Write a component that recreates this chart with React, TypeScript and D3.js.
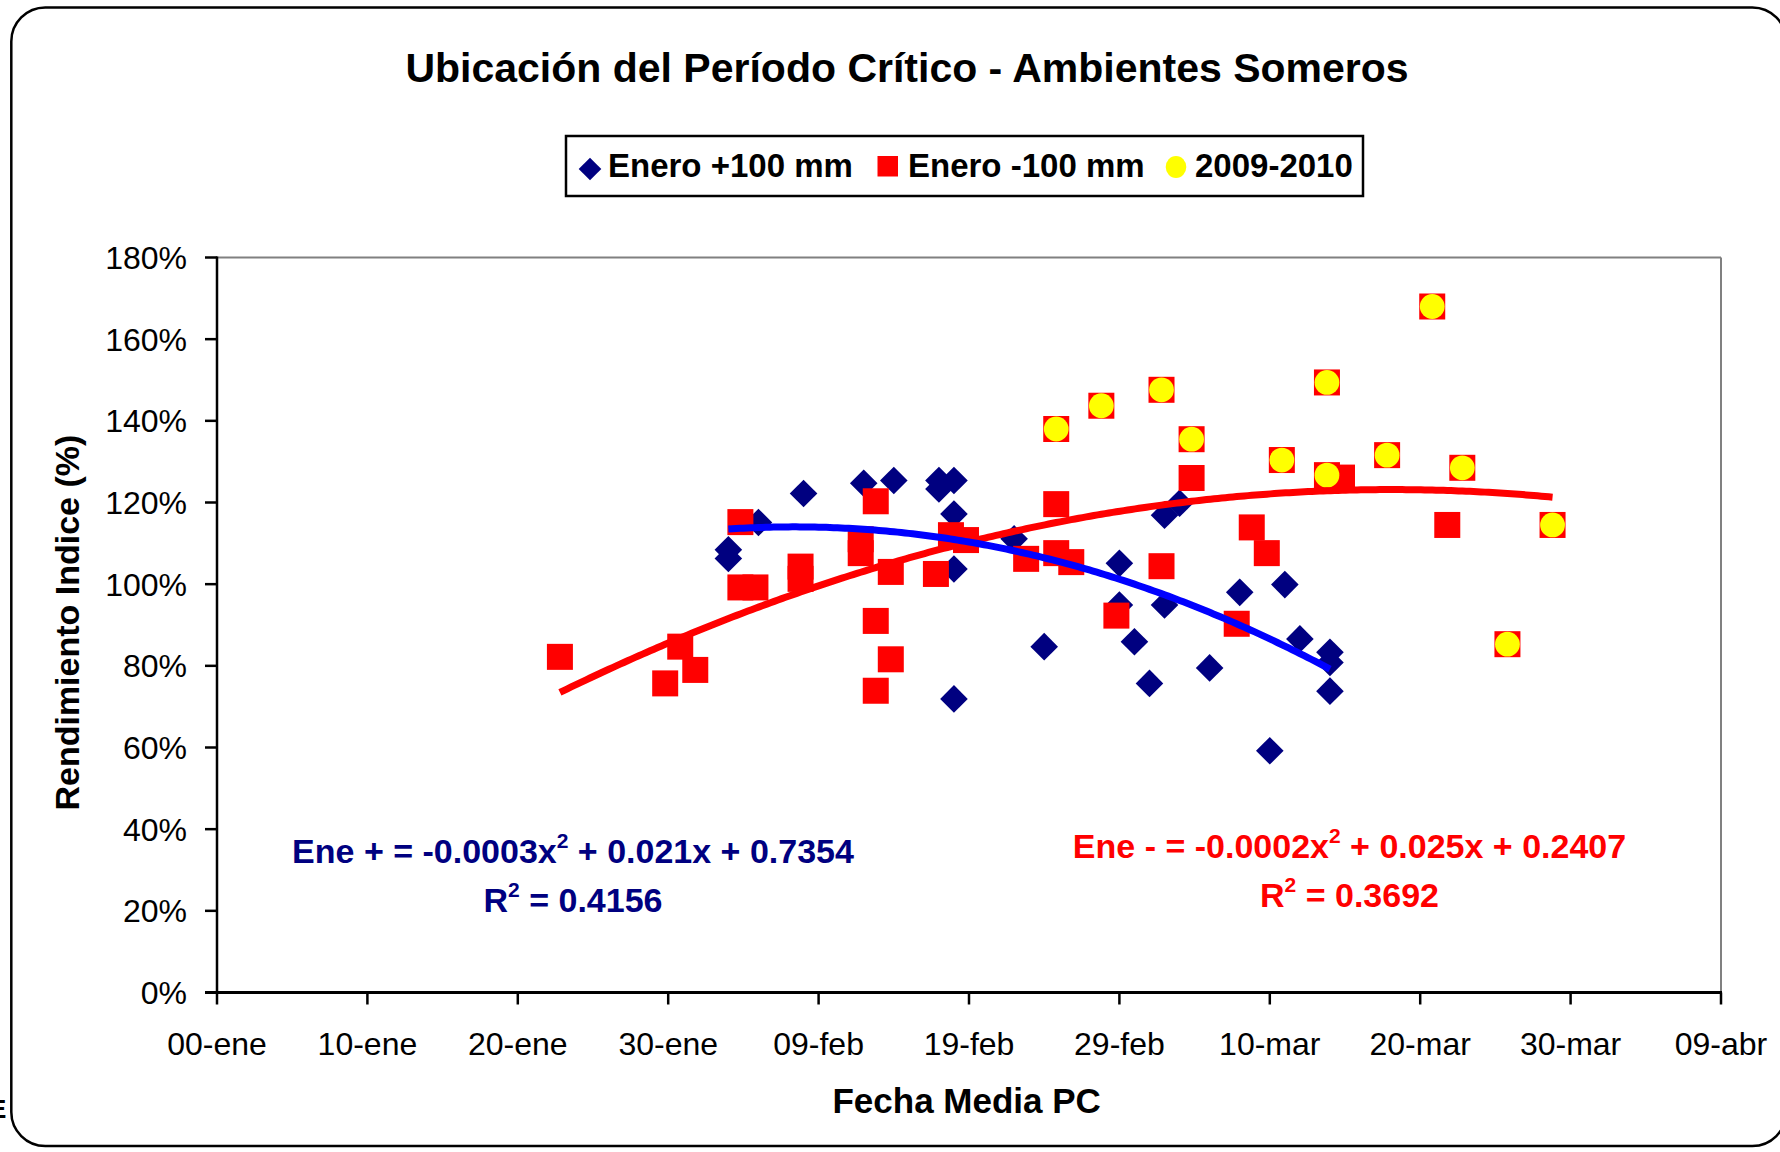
import React from 'react';
import * as d3 from 'd3';

// ---------- data ----------
const xTickValues = [0, 10, 20, 30, 40, 50, 60, 70, 80, 90, 100];
const xTickLabels = ['00-ene', '10-ene', '20-ene', '30-ene', '09-feb', '19-feb', '29-feb', '10-mar', '20-mar', '30-mar', '09-abr'];
const yTickValues = [0, 20, 40, 60, 80, 100, 120, 140, 160, 180];

// Enero +100 mm (days from 00-ene, rendimiento %)
const plusDays = [34, 34, 36, 39, 43, 45, 48, 48, 49, 49, 49, 49, 53, 55, 60, 60, 61, 62, 63, 63, 64, 66, 68, 70, 71, 72, 74, 74, 74];
const plusValues = [108.4, 106.3, 115.1, 122.2, 124.7, 125.4, 125.4, 123.3, 125.4, 117.2, 103.7, 71.9, 111.1, 84.7, 105.1, 94.9, 85.9, 75.7, 116.9, 94.9, 119.8, 79.5, 98.0, 59.2, 99.9, 86.6, 83.3, 80.8, 73.8];

// Enero -100 mm
const minusDays = [22.8, 29.8, 30.8, 31.8, 34.8, 34.8, 35.8, 38.8, 38.8, 42.8, 42.8, 43.8, 43.8, 43.8, 44.8, 44.8, 47.8, 48.8, 49.8, 53.8, 55.8, 55.8, 56.8, 59.8, 62.8, 64.8, 67.8, 68.8, 69.8, 74.8, 81.8];
const minusValues = [82.2, 75.7, 84.7, 79.0, 115.2, 99.2, 99.2, 104.3, 101.3, 111.0, 107.6, 120.3, 91.0, 73.9, 81.6, 103.0, 102.5, 112.0, 110.8, 106.2, 119.6, 107.6, 105.4, 92.3, 104.4, 126.0, 90.3, 113.9, 107.6, 126.1, 114.5];

// 2009-2010 (also part of Enero -100 mm)
const yearDays = [55.8, 58.8, 62.8, 64.8, 70.8, 73.8, 73.8, 77.8, 80.8, 82.8, 85.8, 88.8];
const yearValues = [138.0, 143.7, 147.6, 135.5, 130.4, 126.7, 149.4, 131.6, 168.0, 128.5, 85.3, 114.5];

// polynomial trendline coefficients [a, b, c] in % units: a*x^2 + b*x + c
const plusTrend = [-0.027467, 2.1092, 73.54];
const minusTrend = [-0.016248, 2.5378, 24.07];

const legendLabels = ['Enero +100 mm', 'Enero -100 mm', '2009-2010'];

// ---------- styles ----------
const FONT = "'Liberation Sans', Arial, Helvetica, sans-serif";
const NAVY = '#000080';
const BLUE = '#0000FF';
const RED = '#FF0000';
const YELLOW = '#FFFF00';

const W = 1780;
const H = 1152;

export default function App() {
  const x = d3.scaleLinear().domain([0, 100]).range([217, 1721]);
  const y = d3.scaleLinear().domain([0, 180]).range([992.5, 257.5]);

  const trendPath = (coef: number[], xs: number[]) => {
    const [a, b, c] = coef;
    const lo = d3.min(xs) as number;
    const hi = d3.max(xs) as number;
    const pts = d3.range(lo, hi + 0.0001, 0.25).map((d) => [d, a * d * d + b * d + c] as [number, number]);
    return d3
      .line<[number, number]>()
      .x((d) => x(d[0]))
      .y((d) => y(d[1]))(pts) as string;
  };

  const redDays = minusDays.concat(yearDays);
  const redValues = minusValues.concat(yearValues);

  const diamond = (cx: number, cy: number, r: number) =>
    `M${cx},${cy - r}L${cx + r},${cy}L${cx},${cy + r}L${cx - r},${cy}Z`;

  const x0 = x(0);
  const x1 = x(100);
  const yTop = y(180);
  const yBot = y(0);

  return (
    <div style={{ position: 'absolute', left: 0, top: 0 }}>
      <svg width={W} height={H} style={{ display: 'block', background: '#fff' }} fontFamily={FONT}>
        <rect x={0} y={0} width={W} height={H} fill="#fff" />
        {/* chart border */}
        <rect x={11.3} y={7.5} width={1775} height={1138.5} rx={34} ry={34} fill="#fff" stroke="#000" strokeWidth={2.5} />
        <text x={-11} y={1118} fontSize={26} fontWeight="bold" fill="#000">E</text>

        {/* title */}
        <text x={907} y={82} textAnchor="middle" fontSize={41} fontWeight="bold" fill="#000">
          Ubicación del Período Crítico - Ambientes Someros
        </text>

        {/* legend */}
        <rect x={566} y={136} width={797} height={60} fill="#fff" stroke="#000" strokeWidth={2.5} />
        <path d={diamond(590, 169, 11.3)} fill={NAVY} />
        <text x={608} y={177} fontSize={33} fontWeight="bold" fill="#000">{legendLabels[0]}</text>
        <rect x={877.5} y={156} width={20.5} height={20.5} fill={RED} />
        <text x={908} y={177} fontSize={33} fontWeight="bold" fill="#000">{legendLabels[1]}</text>
        <ellipse cx={1176} cy={167} rx={10.3} ry={11} fill={YELLOW} />
        <text x={1195} y={177} fontSize={33} fontWeight="bold" fill="#000">{legendLabels[2]}</text>

        {/* plot frame */}
        <line x1={x0} y1={yTop} x2={x1} y2={yTop} stroke="#808080" strokeWidth={2} />
        <line x1={x1} y1={yTop} x2={x1} y2={yBot} stroke="#808080" strokeWidth={2} />

        {/* y axis */}
        <line x1={x0} y1={yTop - 1} x2={x0} y2={yBot} stroke="#000" strokeWidth={2.5} />
        {yTickValues.map((v) => (
          <g key={'y' + v}>
            <line x1={x0 - 12} y1={y(v)} x2={x0} y2={y(v)} stroke="#000" strokeWidth={2.5} />
            <text x={187} y={y(v) + 11.5} textAnchor="end" fontSize={32} fill="#000">
              {v + '%'}
            </text>
          </g>
        ))}

        {/* x axis */}
        <line x1={x0 - 12} y1={yBot} x2={x1 + 1} y2={yBot} stroke="#000" strokeWidth={3} />
        {xTickValues.map((v, i) => (
          <g key={'x' + v}>
            <line x1={x(v)} y1={yBot} x2={x(v)} y2={yBot + 12} stroke="#000" strokeWidth={2.5} />
            <text x={x(v)} y={1055} textAnchor="middle" fontSize={32} fill="#000">
              {xTickLabels[i]}
            </text>
          </g>
        ))}

        {/* axis titles */}
        <text x={966.7} y={1113} textAnchor="middle" fontSize={35} fontWeight="bold" fill="#000">
          Fecha Media PC
        </text>
        <text
          transform="translate(79,622.6) rotate(-90)"
          textAnchor="middle"
          fontSize={34}
          fontWeight="bold"
          fill="#000"
        >
          Rendimiento Indice (%)
        </text>

        {/* markers: Enero +100 mm */}
        {plusDays.map((d, i) => (
          <path key={'p' + i} d={diamond(x(d), y(plusValues[i]), 13.8)} fill={NAVY} />
        ))}
        {/* markers: Enero -100 mm */}
        {redDays.map((d, i) => (
          <rect key={'m' + i} x={x(d) - 13} y={y(redValues[i]) - 13} width={26} height={26} fill={RED} />
        ))}
        {/* markers: 2009-2010 */}
        {yearDays.map((d, i) => (
          <circle key={'c' + i} cx={x(d)} cy={y(yearValues[i])} r={12.4} fill={YELLOW} />
        ))}

        {/* trendlines */}
        <path d={trendPath(minusTrend, redDays)} fill="none" stroke={RED} strokeWidth={7} />
        <path d={trendPath(plusTrend, plusDays)} fill="none" stroke={BLUE} strokeWidth={7} />

        {/* equations */}
        <text x={573} y={863} textAnchor="middle" fontSize={34} fontWeight="bold" fill={NAVY}>
          {'Ene + = -0.0003x'}
          <tspan dy={-15} fontSize={21}>2</tspan>
          <tspan dy={15}>{' + 0.021x + 0.7354'}</tspan>
        </text>
        <text x={573} y={912} textAnchor="middle" fontSize={34} fontWeight="bold" fill={NAVY}>
          {'R'}
          <tspan dy={-15} fontSize={21}>2</tspan>
          <tspan dy={15}>{' = 0.4156'}</tspan>
        </text>
        <text x={1349.5} y={858} textAnchor="middle" fontSize={34} fontWeight="bold" fill={RED}>
          {'Ene - = -0.0002x'}
          <tspan dy={-15} fontSize={21}>2</tspan>
          <tspan dy={15}>{' + 0.025x + 0.2407'}</tspan>
        </text>
        <text x={1349.5} y={907} textAnchor="middle" fontSize={34} fontWeight="bold" fill={RED}>
          {'R'}
          <tspan dy={-15} fontSize={21}>2</tspan>
          <tspan dy={15}>{' = 0.3692'}</tspan>
        </text>
      </svg>
    </div>
  );
}
